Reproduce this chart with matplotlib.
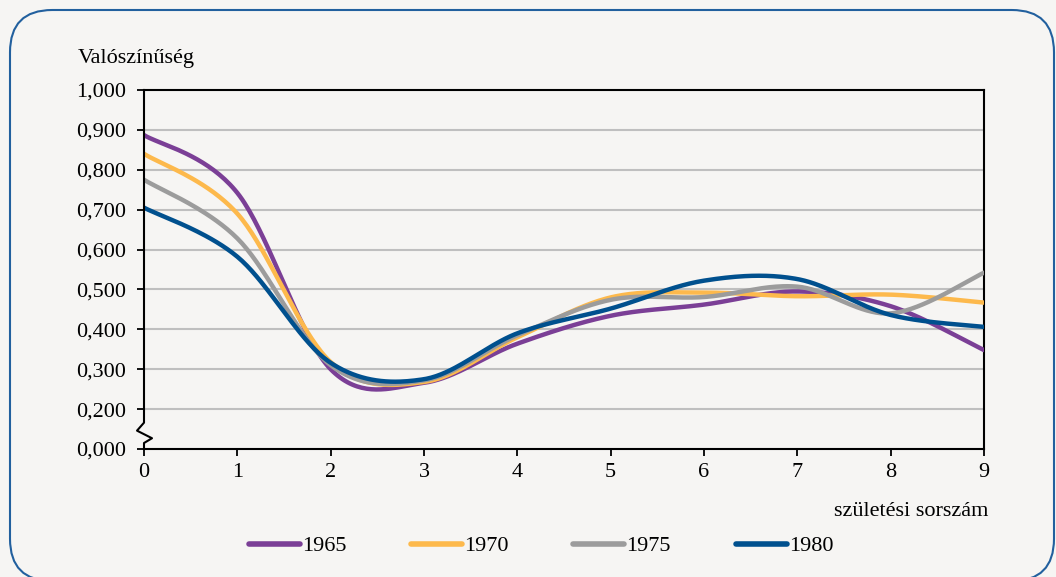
import numpy as np
import matplotlib.pyplot as plt
from matplotlib.patches import FancyBboxPatch
import matplotlib.transforms as mtransforms

plt.rcParams['font.family'] = ['Liberation Serif', 'DejaVu Serif']

# adatok: születési sorszám és valószínűség évenként
sorszam = [0, 1, 2, 3, 4, 5, 6, 7, 8, 9]
y1965 = [0.887, 0.742, 0.300, 0.266, 0.364, 0.434, 0.462, 0.495, 0.458, 0.348]
y1970 = [0.840, 0.690, 0.318, 0.268, 0.380, 0.480, 0.492, 0.483, 0.487, 0.467]
y1975 = [0.775, 0.628, 0.310, 0.272, 0.385, 0.474, 0.481, 0.507, 0.440, 0.542]
y1980 = [0.705, 0.582, 0.316, 0.275, 0.390, 0.452, 0.522, 0.526, 0.436, 0.406]
evek = ['1965', '1970', '1975', '1980']
szinek = ['#7B3F96', '#FDB94C', '#9C9C9C', '#00508E']

ytick_pos = [0.1, 0.2, 0.3, 0.4, 0.5, 0.6, 0.7, 0.8, 0.9, 1.0]
ytick_lab = ['0,000', '0,200', '0,300', '0,400', '0,500', '0,600',
             '0,700', '0,800', '0,900', '1,000']


def simit(xs, ys, n=40):
    # Catmull-Rom simítás, mint az Excel simított vonala
    xs = np.asarray(xs, float)
    ys = np.asarray(ys, float)
    px = np.concatenate([[xs[0]], xs, [xs[-1]]])
    py = np.concatenate([[ys[0]], ys, [ys[-1]]])
    ox, oy = [], []
    t = np.linspace(0, 1, n)
    for i in range(1, len(px) - 2):
        x0, x1, x2, x3 = px[i - 1:i + 3]
        y0, y1, y2, y3 = py[i - 1:i + 3]
        bx = [x1, x1 + (x2 - x0) / 6, x2 - (x3 - x1) / 6, x2]
        by = [y1, y1 + (y2 - y0) / 6, y2 - (y3 - y1) / 6, y2]
        b = [(1 - t) ** 3, 3 * (1 - t) ** 2 * t, 3 * (1 - t) * t ** 2, t ** 3]
        ox.append(sum(c * v for c, v in zip(b, bx)))
        oy.append(sum(c * v for c, v in zip(b, by)))
    return np.concatenate(ox), np.concatenate(oy)


bg = '#F6F5F3'
fs = 16
fig = plt.figure(figsize=(10.56, 5.77), dpi=100, facecolor=bg)
ax = fig.add_axes([144 / 1056, 1 - 449 / 577, 840 / 1056, 359 / 577])
ax.set_facecolor(bg)

# lekerekített keret
fig.patches.append(FancyBboxPatch((10 / 1056, -4 / 577), 1044 / 1056, 571 / 577,
                                  boxstyle='round,pad=0,rounding_size=0.04',
                                  transform=fig.transFigure, fill=False,
                                  edgecolor='#22609E', linewidth=1.5,
                                  mutation_aspect=1056 / 577))

for y in ytick_pos[1:-1]:
    ax.axhline(y, color='#BFBFBF', lw=1.5, zorder=1)

for ys, ev, c in zip([y1965, y1970, y1975, y1980], evek, szinek):
    sx, sy = simit(sorszam, ys)
    ax.plot(sx, sy, color=c, lw=3.2, label=ev, solid_capstyle='round', zorder=3)

ax.set_xlim(0, 9)
ax.set_ylim(0.1, 1.0)
ax.set_xticks(sorszam)
ax.set_yticks(ytick_pos)
ax.set_yticklabels(ytick_lab)
ax.tick_params(axis='both', direction='out', length=5, width=1.3,
               labelsize=fs, colors='black')
ax.tick_params(axis='y', pad=8)
ax.tick_params(axis='x', pad=5)
for s in ['top', 'right', 'bottom']:
    ax.spines[s].set_linewidth(1.5)
ax.spines['left'].set_visible(False)

# függőleges tengely tengelytöréssel
tr = mtransforms.blended_transform_factory(ax.transAxes, ax.transData)
w = 840.0
zx = [0, 0, -7 / w, 8 / w, 0, 0]
zy = [1.0, 0.166, 0.146, 0.127, 0.115, 0.1]
ax.plot(zx, zy, color='black', lw=1.5, transform=tr, clip_on=False, zorder=5)

fig.text(78 / 1056, 1 - 58 / 577, 'Valószínűség', fontsize=fs, va='center')
fig.text(988 / 1056, 1 - 512 / 577, 'születési sorszám', fontsize=fs,
         ha='right', va='center')

leg = fig.legend(loc='center', bbox_to_anchor=(541 / 1056, 1 - 546 / 577),
                 ncol=4, frameon=False, fontsize=fs, handlelength=2.3,
                 handletextpad=0.1, columnspacing=2.9)
for l in leg.get_lines():
    l.set_linewidth(4)

fig.savefig('out.png', dpi=100, facecolor=bg)
